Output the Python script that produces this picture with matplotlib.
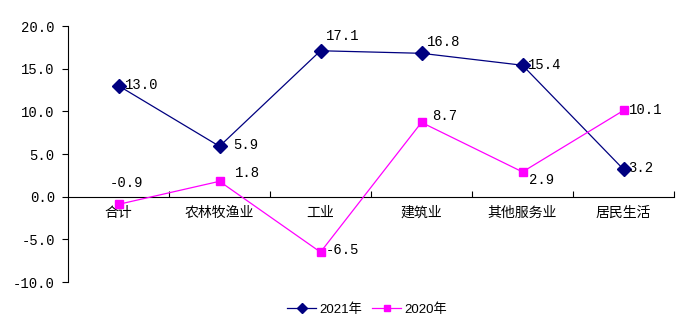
import matplotlib
matplotlib.use('Agg')
import matplotlib.pyplot as plt
from matplotlib.ticker import FixedLocator, FormatStrFormatter

categories = ['合计', '农林牧渔业', '工业', '建筑业', '其他服务业', '居民生活']
vals_2021 = [13.0, 5.9, 17.1, 16.8, 15.4, 3.2]
vals_2020 = [-0.9, 1.8, -6.5, 8.7, 2.9, 10.1]

# label offsets in pixels (dx, dy)
off_2021 = [(6, 1), (14, 1), (5, 15), (5, 11), (5, 0), (5, 1)]
off_2020 = [(-9, 21), (15, 8), (5, 2), (11, 6), (6, -8), (5, 0)]

plt.rcParams['font.family'] = ['Noto Sans CJK SC', 'DejaVu Sans']
num_font = ['Liberation Mono', 'DejaVu Sans Mono']

fig = plt.figure(figsize=(6.91, 3.29), dpi=100)
ax = fig.add_axes([68 / 691, 1 - 282 / 329, 606 / 691, 256 / 329])

x = list(range(len(categories)))
l1, = ax.plot(x, vals_2021, color='#000080', lw=0.9, marker='D', markersize=7,
              label='2021年', zorder=3)
l2, = ax.plot(x, vals_2020, color='#FF00FF', lw=0.9, marker='s', markersize=5.5,
              label='2020年', zorder=3)

for xi, v, (dx, dy) in zip(x, vals_2021, off_2021):
    ax.annotate(f'{v:.1f}', (xi, v), xytext=(dx, dy), textcoords='offset pixels',
                ha='left', va='center', fontsize=10, family=num_font)
for xi, v, (dx, dy) in zip(x, vals_2020, off_2020):
    ax.annotate(f'{v:.1f}', (xi, v), xytext=(dx, dy), textcoords='offset pixels',
                ha='left', va='center', fontsize=10, family=num_font)

ax.set_xlim(-0.5, len(categories) - 0.5)
ax.set_ylim(-10, 20)
ax.set_yticks(range(-10, 21, 5))
ax.yaxis.set_major_formatter(FormatStrFormatter('%.1f'))
ax.tick_params(axis='y', direction='out', length=4.5, width=0.8, pad=5)

ax.set_xticks(x)
ax.set_xticklabels(categories, fontsize=11.5)
ax.tick_params(axis='x', which='major', length=0, pad=6.5)
ax.xaxis.set_minor_locator(FixedLocator([i + 0.5 for i in x]))
ax.tick_params(axis='x', which='minor', direction='in', length=4, width=0.8)

for lab in ax.get_yticklabels():
    lab.set_family(num_font)
    lab.set_fontsize(10)

for s in ['top', 'right']:
    ax.spines[s].set_visible(False)
ax.spines['bottom'].set_position(('data', 0))
ax.spines['bottom'].set_linewidth(0.8)
ax.spines['left'].set_linewidth(0.8)

fig.legend(handles=[l1, l2], loc='center', bbox_to_anchor=(0.531, 0.06), ncol=2,
           frameon=False, prop={'family': ['Liberation Sans', 'Noto Sans CJK SC'], 'size': 9.5},
           handlelength=2.2, handletextpad=0.2, columnspacing=0.8, markerscale=0.8)

fig.savefig('out.png', dpi=100)
